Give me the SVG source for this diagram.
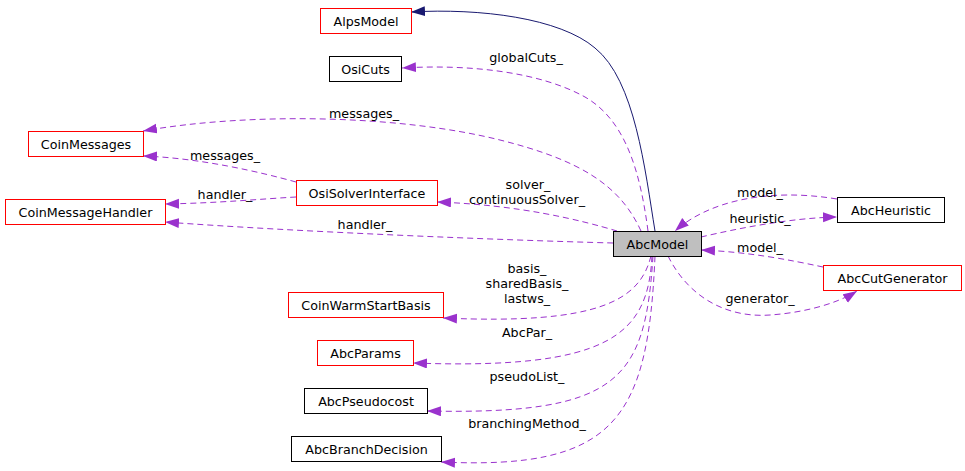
<svg xmlns="http://www.w3.org/2000/svg" width="965" height="471" viewBox="0 0 965 471">
<style>
text{font-family:"DejaVu Sans",Verdana,sans-serif;font-size:12.7px;fill:#000}
.n text{text-anchor:middle}
.box{fill:#fff;stroke:#000;stroke-width:1}
.red{stroke:#ff0000}
.main{fill:#bfbfbf}
.e{fill:none;stroke:#9a32cd;stroke-width:1;stroke-dasharray:6,4;marker-end:url(#pa)}
.inh{fill:none;stroke:#191970;stroke-width:1;marker-end:url(#na)}
.lbl{text-anchor:middle}
</style>
<defs>
<marker id="pa" markerUnits="userSpaceOnUse" markerWidth="15" markerHeight="11" refX="14" refY="5" orient="auto" viewBox="0 0 15 11"><path d="M0,0 L14,5 L0,10 z" fill="#9a32cd"/></marker>
<marker id="na" markerUnits="userSpaceOnUse" markerWidth="15" markerHeight="11" refX="14" refY="5" orient="auto" viewBox="0 0 15 11"><path d="M0,0 L14,5 L0,10 z" fill="#191970"/></marker>
</defs>
<rect width="965" height="471" fill="#fff"/>
<g id="connectors">
<path class="inh" d="M655,231 C645,170 635,80 595,48 C560,18 480,8 411,12"/>
<path class="e" d="M648,231 C640,170 625,120 585,97 C540,72 470,64 402,68"/>
<path class="e" d="M641,231 C620,185 580,160 500,140 C400,115 250,112 143,131"/>
<path class="e" d="M296,182 C260,172 200,158 143,156"/>
<path class="e" d="M296,197 C260,199 220,203 165,204"/>
<path class="e" d="M613,243 C500,240 300,232 165,222"/>
<path class="e" d="M617,231 C580,220 520,205 437,202"/>
<path class="e" d="M837,199 C770,188 710,200 675,231"/>
<path class="e" d="M701,237 C740,228 790,218 837,217"/>
<path class="e" d="M823,267 C790,260 750,252 701,250"/>
<path class="e" d="M668,256 C690,300 730,318 770,315 C800,313 835,305 857,291"/>
<path class="e" d="M651,256 C640,300 600,325 443,318"/>
<path class="e" d="M652,256 C648,335 610,370 413,363"/>
<path class="e" d="M653,256 C645,380 620,415 427,411"/>
<path class="e" d="M655,256 C648,420 615,470 441,462"/>
<text class="lbl" x="526" y="62">globalCuts_</text>
<text class="lbl" x="364" y="118">messages_</text>
<text class="lbl" x="225" y="160">messages_</text>
<text class="lbl" x="225" y="199">handler_</text>
<text class="lbl" x="365" y="229">handler_</text>
<text class="lbl" x="528" y="189">solver_</text>
<text class="lbl" x="527" y="204">continuousSolver_</text>
<text class="lbl" x="760" y="197">model_</text>
<text class="lbl" x="760" y="223">heuristic_</text>
<text class="lbl" x="760" y="252">model_</text>
<text class="lbl" x="760" y="303">generator_</text>
<text class="lbl" x="527" y="273">basis_</text>
<text class="lbl" x="527" y="288">sharedBasis_</text>
<text class="lbl" x="527" y="303">lastws_</text>
<text class="lbl" x="527" y="337">AbcPar_</text>
<text class="lbl" x="527" y="381">pseudoList_</text>
<text class="lbl" x="527" y="428">branchingMethod_</text>
</g>
<g id="AbcModel" class="n"><rect class="box main" x="613.5" y="231.5" width="88" height="25"/><text x="657.5" y="248.5">AbcModel</text></g>
<g id="AlpsModel" class="n"><rect class="box red" x="320.5" y="8.5" width="91" height="25"/><text x="366" y="25.5">AlpsModel</text></g>
<g id="OsiCuts" class="n"><rect class="box" x="329.5" y="56.5" width="72" height="25"/><text x="365.5" y="73.5">OsiCuts</text></g>
<g id="CoinMessages" class="n"><rect class="box red" x="28.5" y="131.5" width="115" height="25"/><text x="86" y="148.5">CoinMessages</text></g>
<g id="CoinMessageHandler" class="n"><rect class="box red" x="5.5" y="199.5" width="160" height="25"/><text x="85.5" y="216.5">CoinMessageHandler</text></g>
<g id="OsiSolverInterface" class="n"><rect class="box red" x="296.5" y="180.5" width="141" height="25"/><text x="367" y="197.5">OsiSolverInterface</text></g>
<g id="AbcHeuristic" class="n"><rect class="box" x="837.5" y="197.5" width="107" height="25"/><text x="891" y="214.5">AbcHeuristic</text></g>
<g id="AbcCutGenerator" class="n"><rect class="box red" x="823.5" y="265.5" width="138" height="25"/><text x="892.5" y="282.5">AbcCutGenerator</text></g>
<g id="CoinWarmStartBasis" class="n"><rect class="box red" x="288.5" y="292.5" width="155" height="25"/><text x="366" y="309.5">CoinWarmStartBasis</text></g>
<g id="AbcParams" class="n"><rect class="box red" x="317.5" y="340.5" width="96" height="25"/><text x="365.5" y="357.5">AbcParams</text></g>
<g id="AbcPseudocost" class="n"><rect class="box" x="304.5" y="388.5" width="123" height="25"/><text x="366" y="405.5">AbcPseudocost</text></g>
<g id="AbcBranchDecision" class="n"><rect class="box" x="291.5" y="436.5" width="150" height="25"/><text x="366.5" y="453.5">AbcBranchDecision</text></g>
</svg>
